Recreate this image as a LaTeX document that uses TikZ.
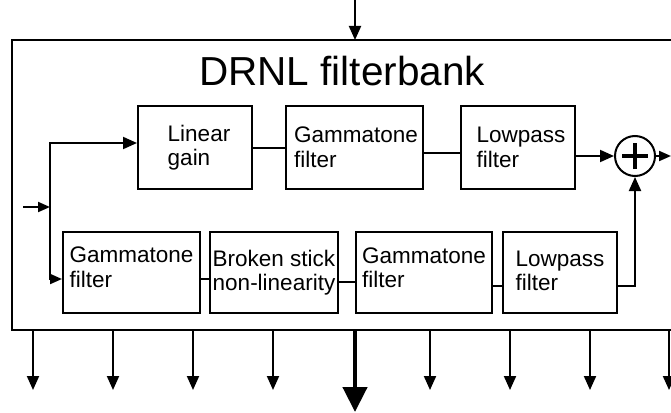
\documentclass[tikz,border=0pt]{standalone}
\usepackage{fontspec}
\setmainfont{Liberation Sans}
\usetikzlibrary{arrows.meta}
\begin{document}
\begin{tikzpicture}[x=1pt,y=-1pt,
  blk/.style={draw,line width=2pt,minimum height=83pt,inner sep=0pt},
  txt/.style={font=\fontsize{22.5}{24.5}\selectfont,align=left,inner sep=0pt},
  conn/.style={line width=2pt},
  arr/.style={line width=2pt,-{Triangle[length=14pt,width=12pt]}},
  sarr/.style={line width=2pt,-{Triangle[length=12pt,width=10pt]}},
  bigarr/.style={line width=4.5pt,-{Triangle[length=25pt,width=24pt]}}]
\useasboundingbox (0,0) rectangle (671,412);
% outer frame (right side cut off)
\draw[line width=2pt] (672,40) -- (12,40) -- (12,330) -- (672,330);
\node[font=\fontsize{40.5}{46}\selectfont,anchor=base west,inner sep=0pt] (title) at (199,85) {DRNL filterbank};
% top row
\node[blk,minimum width=114pt] (lg) at (195,147.5) {};
\node[blk,minimum width=137pt] (gt1) at (354.5,147.5) {};
\node[blk,minimum width=114pt] (lp1) at (518,147.5) {};
\node[txt] (lgt) at ([xshift=4pt]lg.center) {Linear\\gain};
\node[txt] (gt1t) at ([xshift=1.5pt]gt1.center) {Gammatone\\filter};
\node[txt] (lp1t) at ([xshift=3pt]lp1.center) {Lowpass\\filter};
% bottom row
\node[blk,minimum width=137pt,minimum height=81pt] (gt2) at (131.5,272.5) {};
\node[blk,minimum width=128pt,minimum height=81pt] (bs) at (274,272.5) {};
\node[blk,minimum width=136pt,minimum height=81pt] (gt3) at (424,272.5) {};
\node[blk,minimum width=114pt,minimum height=81pt] (lp2) at (560,272.5) {};
\node[txt] (gt2t) at ([yshift=5pt]gt2.center) {Gammatone\\filter};
\node[txt] (bst) at (bs.center) {Broken stick\\non-linearity};
\node[txt] (gt3t) at ([yshift=4.5pt]gt3.center) {Gammatone\\filter};
\node[txt] (lp2t) at ([yshift=1.5pt]lp2.center) {Lowpass\\filter};
% sum
\node[draw,circle,line width=2pt,minimum size=40pt,inner sep=0pt] (plus) at (635,156) {};
\draw[line width=4pt] ([xshift=-13pt]plus.center) -- ([xshift=13pt]plus.center)
  ([yshift=-13pt]plus.center) -- ([yshift=13pt]plus.center);
% connections
\draw[conn] (lg.east) -- (gt1.west);
\draw[conn] (gt1.east |- 0,153) -- (lp1.west |- 0,153);
\draw[arr] (lp1.east |- 0,156) -- (plus.west);
\coordinate (out) at (671,156);
\draw[sarr] (plus.east) -- (out);
\draw[conn] (gt2.east |- 0,279) -- (bs.west |- 0,279);
\draw[conn] (bs.east |- 0,282) -- (gt3.west |- 0,282);
\draw[conn] (gt3.east |- 0,286) -- (lp2.west |- 0,286);
\draw[arr] (lp2.east |- 0,286) -| (plus.south);
% input
\coordinate (in) at (23,207);
\coordinate (split) at (50,207);
\draw[sarr] (in) -- (split);
\draw[arr] (split) |- (lg.west |- 0,143);
\draw[sarr] (split) |- (gt2.west |- 0,279);
% top input arrow
\coordinate (topin) at (355,0);
\coordinate (topend) at (355,40);
\draw[arr] (topin) -- (topend);
% output arrows
\foreach \x/\n in {33/a,113/b,193/c,273/d,430/f,510/g,590/h,669/i} {
  \coordinate (s\n) at (\x,330);
  \coordinate (e\n) at (\x,390);
  \draw[arr] (s\n) -- (e\n);
}
\coordinate (se) at (355,330);
\coordinate (ee) at (355,412);
\draw[bigarr] (se) -- (ee);
\end{tikzpicture}
\end{document}
